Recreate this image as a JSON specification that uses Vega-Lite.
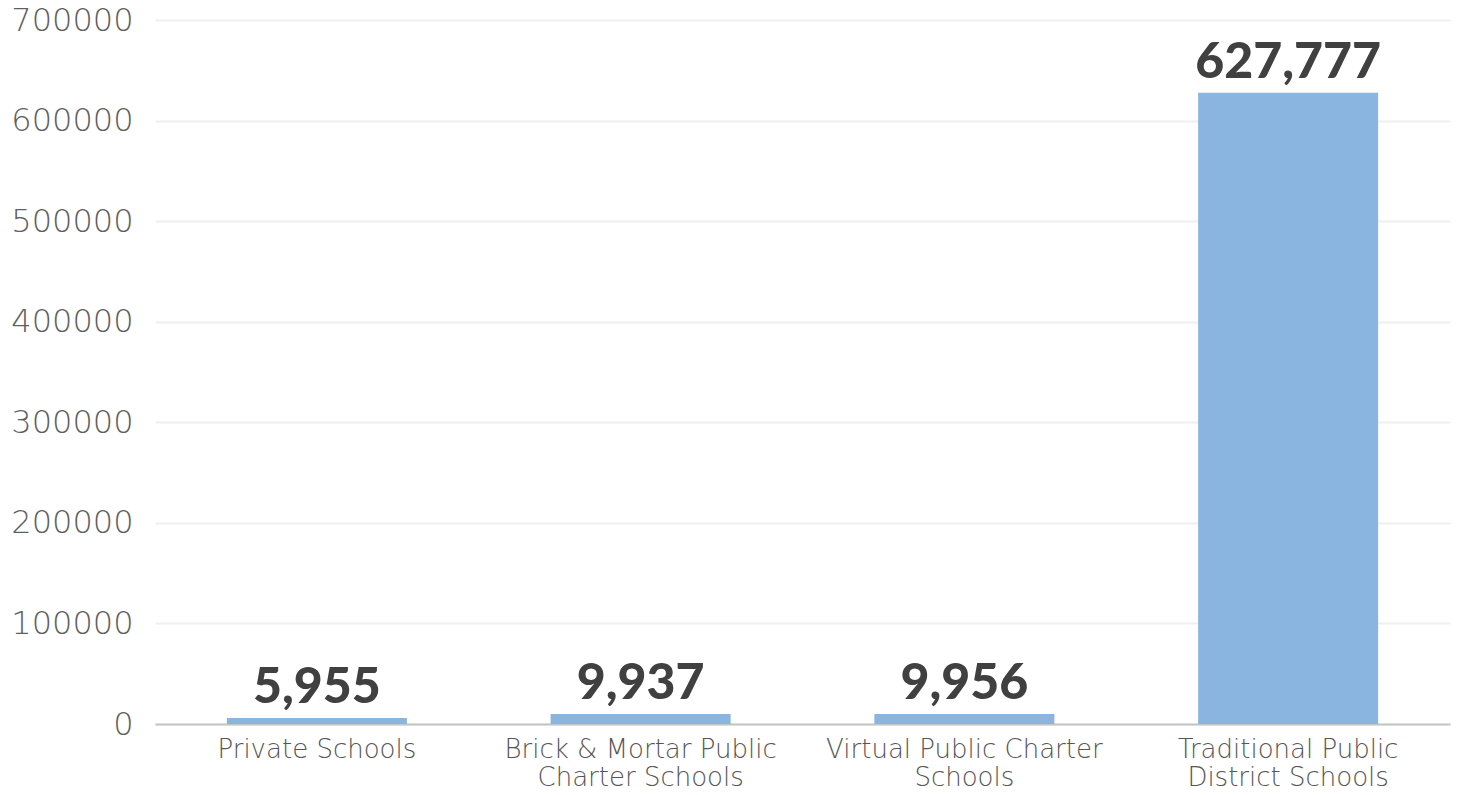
{
  "$schema": "https://vega.github.io/schema/vega-lite/v6.json",
  "autosize": "none",
  "width": 1295,
  "height": 704,
  "padding": {"left": 155, "top": 20, "right": 8, "bottom": 71},
  "background": "white",
  "config": {"view": {"stroke": null}, "font": "Lato"},
  "data": {
    "values": [
      {"school": "Private Schools", "students": 5955},
      {"school": "Brick & Mortar Public Charter Schools", "students": 9937},
      {"school": "Virtual Public Charter Schools", "students": 9956},
      {"school": "Traditional Public District Schools", "students": 627777}
    ]
  },
  "encoding": {
    "x": {
      "field": "school",
      "type": "nominal",
      "sort": null,
      "scale": {"paddingInner": 0.444, "paddingOuter": 0.222},
      "axis": {
        "title": null,
        "labelAngle": 0,
        "labelFont": "DejaVu Sans",
        "labelFontWeight": 200,
        "labelFontSize": 26,
        "labelColor": "#555555",
        "labelLineHeight": 28,
        "labelPadding": 12,
        "labelBaseline": "top",
        "labelLimit": 0,
        "ticks": false,
        "domainColor": "#c4c4c4",
        "domainWidth": 2,
        "labelExpr": "datum.value == 'Private Schools' ? 'Private Schools' : datum.value == 'Brick & Mortar Public Charter Schools' ? ['Brick & Mortar Public', 'Charter Schools'] : datum.value == 'Virtual Public Charter Schools' ? ['Virtual Public Charter', 'Schools'] : ['Traditional Public', 'District Schools']"
      }
    },
    "y": {
      "field": "students",
      "type": "quantitative",
      "scale": {"domain": [0, 700000], "nice": false},
      "axis": {
        "title": null,
        "values": [0, 100000, 200000, 300000, 400000, 500000, 600000, 700000],
        "format": "d",
        "labelFont": "DejaVu Sans",
        "labelFontWeight": 200,
        "labelFontSize": 32,
        "labelColor": "#5f5f5f",
        "labelPadding": 22,
        "labelLimit": 0,
        "ticks": false,
        "domain": false,
        "gridColor": "#efefef",
        "gridWidth": 2
      }
    }
  },
  "layer": [
    {"mark": {"type": "bar", "color": "#8ab5e0"}},
    {
      "mark": {"type": "text", "baseline": "bottom", "dy": -5, "fontSize": 50, "fontWeight": 900, "font": "Lato", "color": "#404040"},
      "encoding": {"text": {"field": "students", "type": "quantitative", "format": ","}}
    }
  ]
}
